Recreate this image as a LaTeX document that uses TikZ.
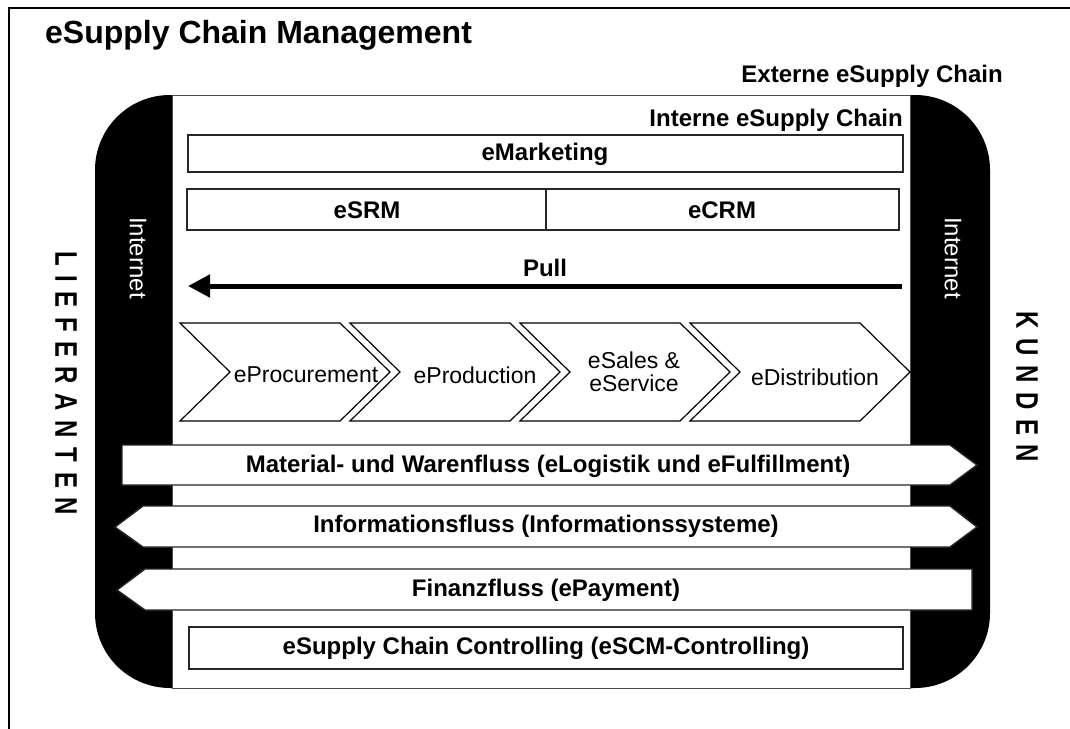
\documentclass[tikz,border=0pt]{standalone}
\usepackage{fontspec}
\setmainfont{Liberation Sans}
\usetikzlibrary{arrows.meta}
\newcommand\fsz[1]{\fontsize{#1}{#1}\selectfont}
\begin{document}
\begin{tikzpicture}[x=1pt,y=-1pt,
  thinline/.style={line width=1.4pt,draw=black!85},
  boxlab/.style={font=\fsz{24}\bfseries,inner sep=0pt},
  chevlab/.style={font=\fsz{23},inner sep=0pt,align=center},
  flowarrow/.style={fill=white,thinline},
  vertlab/.style={rotate=-90,inner sep=0pt}]
\useasboundingbox (0,0) rectangle (1070,728);
\fill[white] (0,0) rectangle (1070,728);
% outer frame
\draw[line width=1.5pt] (9,740) -- (9,8) -- (1080,8);
\node[anchor=base west,inner sep=0pt,font=\fsz{32}\bfseries] (title) at (45,43) {eSupply Chain Management};
% black band
\fill[black,rounded corners=75pt] (95,95) rectangle (990,688);
\draw[fill=white,line width=1pt,draw=black!70] (172,95) rectangle (910,688);
\node[boxlab,anchor=base east] (ext) at (1003,82) {Externe eSupply Chain};
\node[boxlab,anchor=base east] (int) at (903,126) {Interne eSupply Chain};
% eMarketing
\draw[thinline] (188,135) rectangle (903,172);
\node[boxlab] (mkt) at (545,154) {eMarketing};
% eSRM / eCRM
\draw[thinline] (187,189) rectangle (899,230);
\draw[thinline] (546,189) -- (546,230);
\node[boxlab] (srm) at (367,210) {eSRM};
\node[boxlab] (crm) at (722,210) {eCRM};
% Pull
\coordinate (pullR) at (902,286);
\coordinate (pullL) at (188,286);
\draw[line width=5pt,-{Triangle[length=22pt,width=22pt]}] (pullR) -- (pullL);
\node[boxlab] (pull) at (545,268) {Pull};
% chevrons
\foreach \L/\TR/\TP in {180/340/390, 350/510/560, 520/680/730, 690/860/910}{
  \draw[fill=white,line width=1.2pt] (\L,323) -- (\TR,323) -- (\TP,372) -- (\TR,421) -- (\L,421) -- (\L+50,372) -- cycle;
}
\node[chevlab] (proc) at (306,375) {eProcurement};
\node[chevlab] (prod) at (475,375) {eProduction};
\node[chevlab] (sales) at (634,372) {eSales \&\\eService};
\node[chevlab] (dist) at (815,377) {eDistribution};
% flows
\draw[flowarrow] (122,445) -- (950,445) -- (977,465) -- (950,485) -- (122,485) -- cycle;
\node[boxlab] (mat) at (548,466) {Material- und Warenfluss (eLogistik und eFulfillment)};
\draw[flowarrow] (143,506) -- (950,506) -- (977,527) -- (950,547) -- (143,547) -- (115,527) -- cycle;
\node[boxlab] (info) at (546,526) {Informationsfluss (Informationssysteme)};
\draw[flowarrow] (145,569) -- (972,569) -- (972,610) -- (145,610) -- (117,590) -- cycle;
\node[boxlab] (fin) at (546,590) {Finanzfluss (ePayment)};
% controlling
\draw[thinline] (189,627) rectangle (903,669);
\node[boxlab] (ctrl) at (546,648) {eSupply Chain Controlling (eSCM-Controlling)};
% Internet labels
\node[vertlab,text=white,font=\fsz{24}] (inetL) at (138,258) {Internet};
\node[vertlab,text=white,font=\fsz{24}] (inetR) at (953,258) {Internet};
% side labels
\node[vertlab,font=\fsz{24}\bfseries] (lief) at (66,383) {\scalebox{1}[1.3]{\addfontfeature{LetterSpace=40}LIEFERANTEN}};
\node[vertlab,font=\fsz{24}\bfseries] (kund) at (1027,387) {\scalebox{1}[1.3]{\addfontfeature{LetterSpace=40}KUNDEN}};
\end{tikzpicture}
\end{document}
